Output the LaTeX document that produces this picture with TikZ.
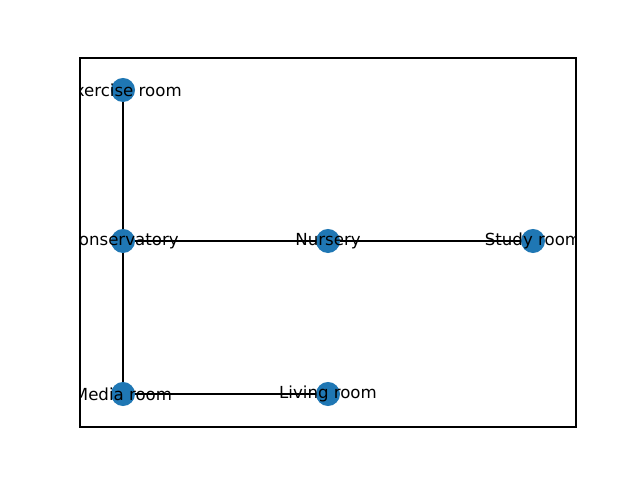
\documentclass[tikz,border=0pt]{standalone}
\usepackage{fontspec}
\setmainfont{DejaVu Sans}
\definecolor{nodeblue}{HTML}{1F77B4}
\tikzset{
  room/.style={circle,fill=nodeblue,minimum size=0.24in,inner sep=0pt},
  link/.style={black,line width=1pt}
}
\begin{document}
\begin{tikzpicture}[x=0.01in,y=-0.01in,font=\fontsize{12pt}{14pt}\selectfont]
    \useasboundingbox (0,0) rectangle (640,480);
    \fill[white] (0,0) rectangle (640,480);

    \begin{scope}
    \clip (80,58) rectangle (576,427);
    % rooms
    \node[room] (exercise) at (123,90) {};
    \node[room] (conserv) at (123,241) {};
    \node[room] (nursery) at (328,241) {};
    \node[room] (study) at (533,241) {};
    \node[room] (media) at (123,394) {};
    \node[room] (living) at (328,394) {};

    % doors
    \draw[link] (exercise) -- (conserv);
    \draw[link] (conserv) -- (nursery);
    \draw[link] (nursery) -- (study);
    \draw[link] (conserv) -- (media);
    \draw[link] (media) -- (living);

    % names
    \node (exercisetxt) at (exercise.center) {Exercise room};
    \node (conservtxt) at (conserv.center) {Conservatory};
    \node (nurserytxt) at (nursery.center) {Nursery};
    \node (studytxt) at (study.center) {Study room};
    \node (mediatxt) at (media.center) {Media room};
    \node (livingtxt) at (living.center) {Living room};
    \end{scope}

    \draw[line width=0.8pt] (80,58) rectangle (576,427);
\end{tikzpicture}
\end{document}
